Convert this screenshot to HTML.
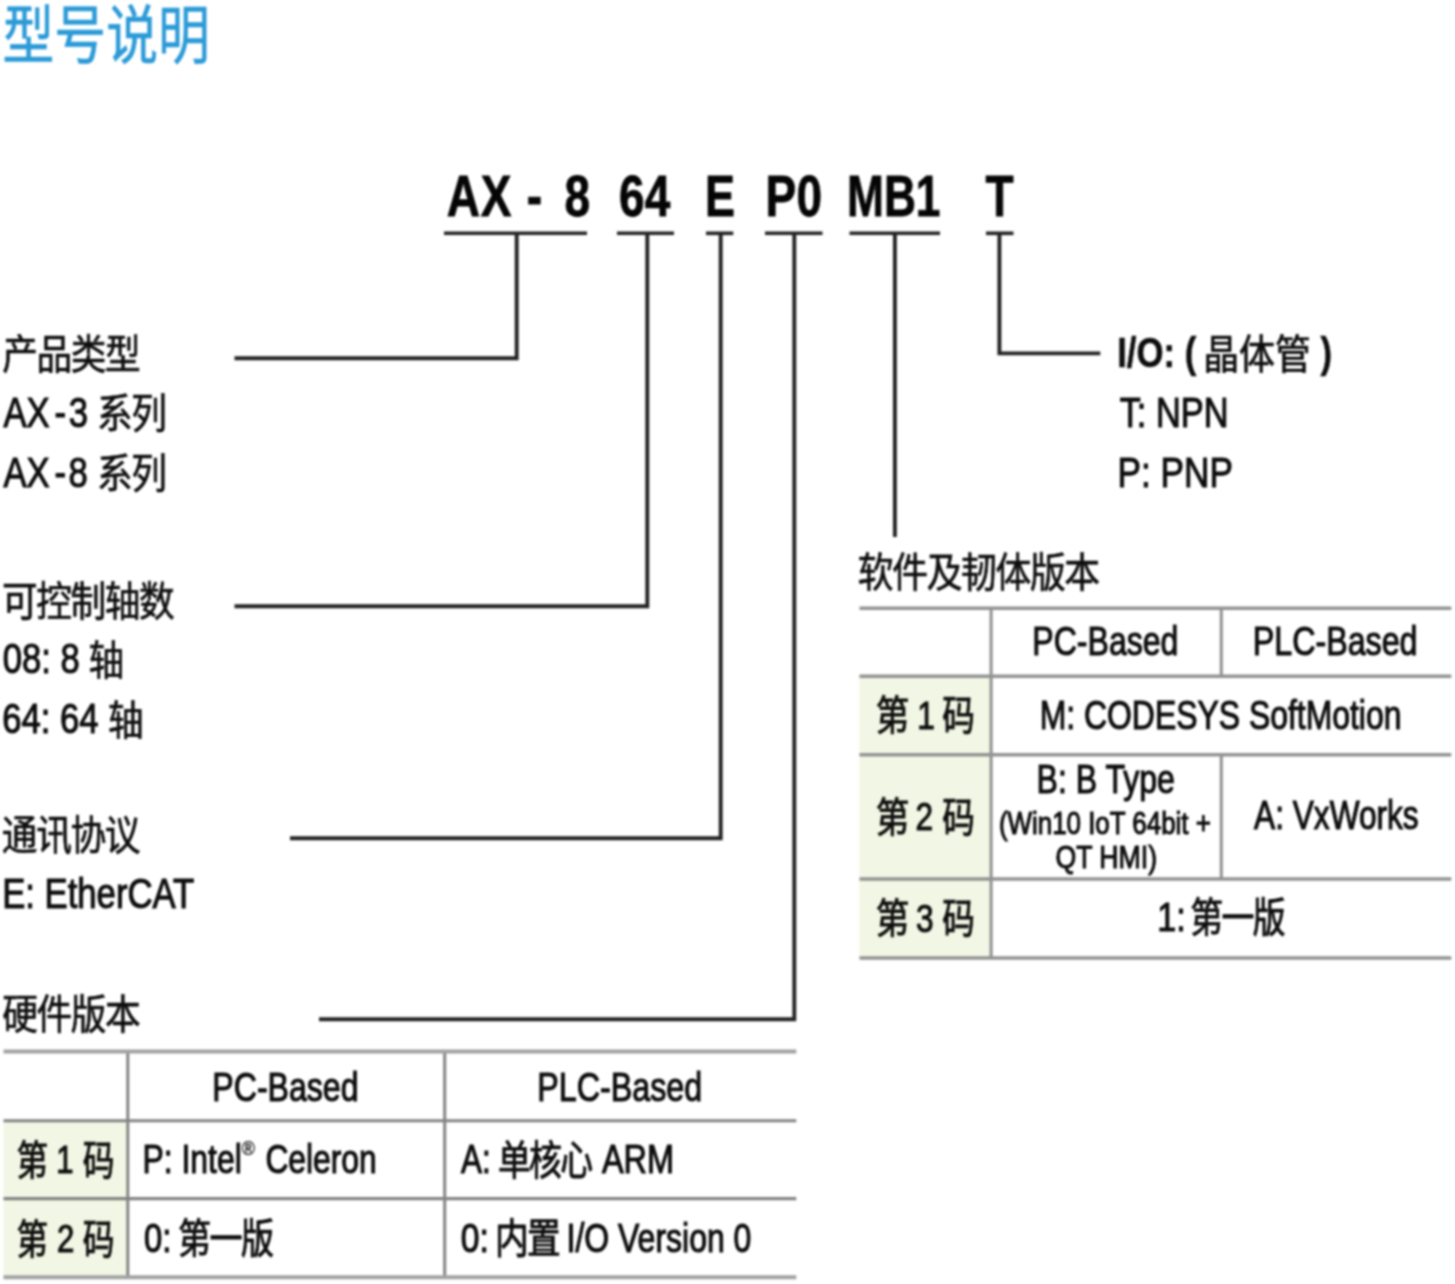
<!DOCTYPE html>
<html lang="zh-CN">
<head>
<meta charset="utf-8">
<title>型号说明</title>
<style>
html,body{margin:0;padding:0;background:#fff;}
body{width:1455px;height:1284px;overflow:hidden;}
svg{display:block;}
svg text{font-family:"Liberation Sans", "Noto Sans CJK SC", sans-serif;white-space:pre;}
</style>
</head>
<body>
<svg width="1455" height="1284" viewBox="0 0 1455 1284">
<defs><filter id="soft" color-interpolation-filters="sRGB" x="0" y="0" width="1455" height="1284" filterUnits="userSpaceOnUse"><feGaussianBlur stdDeviation="0.8"/></filter></defs>
<rect width="1455" height="1284" fill="#fff"/>
<g filter="url(#soft)">
<text transform="translate(2.54 58) scale(0.8100 1)" font-size="64" fill="#2b9ad7" stroke="#2b9ad7" stroke-width="0.6">型号说明</text>
<text transform="translate(446.85 216) scale(0.8000 1)" font-size="57.5" font-weight="700" fill="#050505" stroke="#050505" stroke-width="0.8" letter-spacing="1">AX</text>
<text transform="translate(526.77 216) scale(0.8000 1)" font-size="57.5" font-weight="700" fill="#050505" stroke="#050505" stroke-width="0.8">-</text>
<text transform="translate(564.62 216) scale(0.8000 1)" font-size="57.5" font-weight="700" fill="#050505" stroke="#050505" stroke-width="0.8">8</text>
<text transform="translate(618.89 216) scale(0.8000 1)" font-size="57.5" font-weight="700" fill="#050505" stroke="#050505" stroke-width="0.8" letter-spacing="0.5">64</text>
<text transform="translate(704.97 216) scale(0.7800 1)" font-size="57.5" font-weight="700" fill="#050505" stroke="#050505" stroke-width="0.8">E</text>
<text transform="translate(765.39 216) scale(0.8000 1)" font-size="57.5" font-weight="700" fill="#050505" stroke="#050505" stroke-width="0.8" letter-spacing="0.5">P0</text>
<text transform="translate(847.01 216) scale(0.7700 1)" font-size="57.5" font-weight="700" fill="#050505" stroke="#050505" stroke-width="0.8">MB1</text>
<text transform="translate(985.54 216) scale(0.8000 1)" font-size="57.5" font-weight="700" fill="#050505" stroke="#050505" stroke-width="0.8">T</text>
<path d="M444 233.3L587 233.3" stroke="#222" stroke-width="3.6"/>
<path d="M617 233.3L674 233.3" stroke="#222" stroke-width="3.6"/>
<path d="M706 233.3L733.3 233.3" stroke="#222" stroke-width="3.6"/>
<path d="M765 233.3L822.5 233.3" stroke="#222" stroke-width="3.6"/>
<path d="M849.5 233.3L940 233.3" stroke="#222" stroke-width="3.6"/>
<path d="M986 233.3L1013.5 233.3" stroke="#222" stroke-width="3.6"/>
<path d="M516.7 233V358.3H234.5" stroke="#222" stroke-width="3.9" fill="none"/>
<path d="M647.3 233V606.3H234.5" stroke="#222" stroke-width="3.9" fill="none"/>
<path d="M720.7 233V838.2H290" stroke="#222" stroke-width="3.9" fill="none"/>
<path d="M794.3 233V1019.2H319" stroke="#222" stroke-width="3.9" fill="none"/>
<path d="M894.9 233V537" stroke="#222" stroke-width="3.9" fill="none"/>
<path d="M999.4 233V353.4H1100.3" stroke="#222" stroke-width="3.9" fill="none"/>
<text transform="translate(2.25 368.5) scale(0.8700 1)" font-size="41" fill="#0c0c0c" stroke="#0c0c0c" stroke-width="0.65" letter-spacing="-1.6000000000000003">产品类型</text>
<text transform="translate(3.41 426.5) scale(0.8150 1)" font-size="42.5" fill="#0c0c0c" stroke="#0c0c0c" stroke-width="1.1">AX</text>
<text transform="translate(54.44 426.5) scale(0.8150 1)" font-size="42.5" fill="#0c0c0c" stroke="#0c0c0c" stroke-width="1.1">-</text>
<text transform="translate(68.70 426.5) scale(0.8150 1)" font-size="42.5" fill="#0c0c0c" stroke="#0c0c0c" stroke-width="1.1">3</text>
<text transform="translate(97.00 427.5) scale(0.8700 1)" font-size="41" fill="#0c0c0c" stroke="#0c0c0c" stroke-width="0.65" letter-spacing="-1.6000000000000003">系列</text>
<text transform="translate(3.41 486.5) scale(0.8150 1)" font-size="42.5" fill="#0c0c0c" stroke="#0c0c0c" stroke-width="1.1">AX</text>
<text transform="translate(54.44 486.5) scale(0.8150 1)" font-size="42.5" fill="#0c0c0c" stroke="#0c0c0c" stroke-width="1.1">-</text>
<text transform="translate(68.53 486.5) scale(0.8150 1)" font-size="42.5" fill="#0c0c0c" stroke="#0c0c0c" stroke-width="1.1">8</text>
<text transform="translate(97.00 487.5) scale(0.8700 1)" font-size="41" fill="#0c0c0c" stroke="#0c0c0c" stroke-width="0.65" letter-spacing="-1.6000000000000003">系列</text>
<text transform="translate(2.04 615.5) scale(0.8700 1)" font-size="41" fill="#0c0c0c" stroke="#0c0c0c" stroke-width="0.65" letter-spacing="-1.6000000000000003">可控制轴数</text>
<text transform="translate(2.70 673.2) scale(0.8150 1)" font-size="42.5" fill="#0c0c0c" stroke="#0c0c0c" stroke-width="1.1">08: 8</text>
<text transform="translate(88.39 675.3) scale(0.8700 1)" font-size="41" fill="#0c0c0c" stroke="#0c0c0c" stroke-width="0.65" letter-spacing="-1.6000000000000003">轴</text>
<text transform="translate(2.27 733) scale(0.8150 1)" font-size="42.5" fill="#0c0c0c" stroke="#0c0c0c" stroke-width="1.1">64: 64</text>
<text transform="translate(108.09 735.3) scale(0.8700 1)" font-size="41" fill="#0c0c0c" stroke="#0c0c0c" stroke-width="0.65" letter-spacing="-1.6000000000000003">轴</text>
<text transform="translate(1.87 849.6) scale(0.8700 1)" font-size="41" fill="#0c0c0c" stroke="#0c0c0c" stroke-width="0.65" letter-spacing="-1.6000000000000003">通讯协议</text>
<text transform="translate(2.14 908) scale(0.8164 1)" font-size="42.5" fill="#0c0c0c" stroke="#0c0c0c" stroke-width="1.1">E: EtherCAT</text>
<text transform="translate(2.23 1029) scale(0.8700 1)" font-size="41" fill="#0c0c0c" stroke="#0c0c0c" stroke-width="0.65" letter-spacing="-1.6000000000000003">硬件版本</text>
<text transform="translate(1117.15 367.3) scale(0.8177 1)" font-size="42.5" font-weight="700" fill="#0c0c0c" stroke="#0c0c0c" stroke-width="0.5">I/O: (</text>
<text transform="translate(1203.17 369) scale(0.8771 1)" font-size="41" fill="#0c0c0c" stroke="#0c0c0c" stroke-width="0.65">晶体管</text>
<text transform="translate(1320.50 367.3) scale(0.8150 1)" font-size="42.5" font-weight="700" fill="#0c0c0c" stroke="#0c0c0c" stroke-width="0.5">)</text>
<text transform="translate(1119.63 427.3) scale(0.8098 1)" font-size="42.5" fill="#0c0c0c" stroke="#0c0c0c" stroke-width="1.1">T: NPN</text>
<text transform="translate(1117.49 486.7) scale(0.8290 1)" font-size="42.5" fill="#0c0c0c" stroke="#0c0c0c" stroke-width="1.1">P: PNP</text>
<text transform="translate(857.87 586.5) scale(0.8738 1)" font-size="41" fill="#0c0c0c" stroke="#0c0c0c" stroke-width="0.65" letter-spacing="-1.6000000000000003">软件及韧体版本</text>
<rect x="859.5" y="677" width="131.5" height="281" fill="#f2f6e4"/>
<path d="M859.5 608.2L1451.3 608.2" stroke="#929292" stroke-width="3.5"/>
<path d="M859.5 676.3L1451.3 676.3" stroke="#929292" stroke-width="3.5"/>
<path d="M859.5 754.8L1451.3 754.8" stroke="#929292" stroke-width="3.5"/>
<path d="M859.5 879L1451.3 879" stroke="#929292" stroke-width="3.5"/>
<path d="M859.5 958L1451.3 958" stroke="#929292" stroke-width="3.5"/>
<path d="M991.1 608L991.1 958" stroke="#929292" stroke-width="3.1"/>
<path d="M1221.3 608L1221.3 676" stroke="#929292" stroke-width="3.1"/>
<path d="M1221.3 754L1221.3 879" stroke="#929292" stroke-width="3.1"/>
<text transform="translate(1032.36 654.7) scale(0.8011 1)" font-size="40" fill="#0c0c0c" stroke="#0c0c0c" stroke-width="1.1">PC-Based</text>
<text transform="translate(1252.74 654.7) scale(0.8057 1)" font-size="40" fill="#0c0c0c" stroke="#0c0c0c" stroke-width="1.1">PLC-Based</text>
<text transform="translate(875.80 730.4) scale(0.8211 1)" font-size="41" fill="#0c0c0c" stroke="#0c0c0c" stroke-width="0.95" letter-spacing="-2.0">第</text>
<text transform="translate(917.23 728.6) scale(0.8000 1)" font-size="39.5" fill="#0c0c0c" stroke="#0c0c0c" stroke-width="1.1">1</text>
<text transform="translate(942.22 730.4) scale(0.7960 1)" font-size="41" fill="#0c0c0c" stroke="#0c0c0c" stroke-width="0.95" letter-spacing="-2.0">码</text>
<text transform="translate(875.80 832.0) scale(0.8211 1)" font-size="41" fill="#0c0c0c" stroke="#0c0c0c" stroke-width="0.95" letter-spacing="-2.0">第</text>
<text transform="translate(915.52 830.2) scale(0.8000 1)" font-size="39.5" fill="#0c0c0c" stroke="#0c0c0c" stroke-width="1.1">2</text>
<text transform="translate(942.22 832.0) scale(0.7960 1)" font-size="41" fill="#0c0c0c" stroke="#0c0c0c" stroke-width="0.95" letter-spacing="-2.0">码</text>
<text transform="translate(875.80 933.4) scale(0.8211 1)" font-size="41" fill="#0c0c0c" stroke="#0c0c0c" stroke-width="0.95" letter-spacing="-2.0">第</text>
<text transform="translate(915.92 931.6) scale(0.8000 1)" font-size="39.5" fill="#0c0c0c" stroke="#0c0c0c" stroke-width="1.1">3</text>
<text transform="translate(942.22 933.4) scale(0.7960 1)" font-size="41" fill="#0c0c0c" stroke="#0c0c0c" stroke-width="0.95" letter-spacing="-2.0">码</text>
<text transform="translate(1039.67 728.6) scale(0.7980 1)" font-size="40" fill="#0c0c0c" stroke="#0c0c0c" stroke-width="1.1">M: CODESYS SoftMotion</text>
<text transform="translate(1036.56 792.5) scale(0.8008 1)" font-size="40" fill="#0c0c0c" stroke="#0c0c0c" stroke-width="1.1">B: B Type</text>
<text transform="translate(998.88 833.5) scale(0.8101 1)" font-size="32" fill="#0c0c0c" stroke="#0c0c0c" stroke-width="1.1">(Win10 IoT 64bit +</text>
<text transform="translate(1055.43 868) scale(0.8336 1)" font-size="32" fill="#0c0c0c" stroke="#0c0c0c" stroke-width="1.1">QT HMI)</text>
<text transform="translate(1254.12 829) scale(0.7905 1)" font-size="40" fill="#0c0c0c" stroke="#0c0c0c" stroke-width="1.1">A: VxWorks</text>
<text transform="translate(1157.24 930.8) scale(0.8539 1)" font-size="40" fill="#0c0c0c" stroke="#0c0c0c" stroke-width="1.1">1:</text>
<text transform="translate(1190.24 932) scale(0.8025 1)" font-size="41" fill="#0c0c0c" stroke="#0c0c0c" stroke-width="0.95" letter-spacing="-2.0">第一版</text>
<rect x="3.5" y="1121" width="124.3" height="156" fill="#f2f6e4"/>
<path d="M127.8 1052L127.8 1277" stroke="#838383" stroke-width="3"/>
<path d="M444.7 1052L444.7 1277" stroke="#838383" stroke-width="3"/>
<path d="M3.5 1120.7L796.3 1120.7" stroke="#838383" stroke-width="3.1"/>
<path d="M3.5 1198.6L796.3 1198.6" stroke="#838383" stroke-width="3.1"/>
<path d="M3.5 1051.6L796.3 1051.6" stroke="#a2a2a2" stroke-width="4.0"/>
<path d="M3.5 1277.3L796.3 1277.3" stroke="#a2a2a2" stroke-width="4.0"/>
<text transform="translate(212.35 1100.6) scale(0.8017 1)" font-size="40" fill="#0c0c0c" stroke="#0c0c0c" stroke-width="1.1">PC-Based</text>
<text transform="translate(537.34 1100.6) scale(0.8062 1)" font-size="40" fill="#0c0c0c" stroke="#0c0c0c" stroke-width="1.1">PLC-Based</text>
<text transform="translate(16.40 1175.4) scale(0.7724 1)" font-size="41" fill="#0c0c0c" stroke="#0c0c0c" stroke-width="0.95" letter-spacing="-2.0">第</text>
<text transform="translate(56.26 1173.4) scale(0.8200 1)" font-size="38" fill="#0c0c0c" stroke="#0c0c0c" stroke-width="1.1">1</text>
<text transform="translate(82.75 1175.4) scale(0.7746 1)" font-size="41" fill="#0c0c0c" stroke="#0c0c0c" stroke-width="0.95" letter-spacing="-2.0">码</text>
<text transform="translate(16.40 1253.5) scale(0.7724 1)" font-size="41" fill="#0c0c0c" stroke="#0c0c0c" stroke-width="0.95" letter-spacing="-2.0">第</text>
<text transform="translate(57.04 1251.5) scale(0.8200 1)" font-size="38" fill="#0c0c0c" stroke="#0c0c0c" stroke-width="1.1">2</text>
<text transform="translate(82.75 1253.5) scale(0.7746 1)" font-size="41" fill="#0c0c0c" stroke="#0c0c0c" stroke-width="0.95" letter-spacing="-2.0">码</text>
<text transform="translate(142.57 1173.4) scale(0.7966 1)" font-size="40" fill="#0c0c0c" stroke="#0c0c0c" stroke-width="1.1">P: Intel</text>
<text transform="translate(241.63 1155.3) scale(0.8500 1)" font-size="21" fill="#0c0c0c" stroke="#0c0c0c" stroke-width="0.3">®</text>
<text transform="translate(265.41 1173.4) scale(0.7948 1)" font-size="40" fill="#0c0c0c" stroke="#0c0c0c" stroke-width="1.1">Celeron</text>
<text transform="translate(143.97 1251.5) scale(0.8191 1)" font-size="40" fill="#0c0c0c" stroke="#0c0c0c" stroke-width="1.1">0:</text>
<text transform="translate(178.03 1253) scale(0.8068 1)" font-size="41" fill="#0c0c0c" stroke="#0c0c0c" stroke-width="0.95" letter-spacing="-2.0">第一版</text>
<text transform="translate(461.12 1173.4) scale(0.7859 1)" font-size="40" fill="#0c0c0c" stroke="#0c0c0c" stroke-width="1.1">A:</text>
<text transform="translate(497.88 1175) scale(0.8006 1)" font-size="41" fill="#0c0c0c" stroke="#0c0c0c" stroke-width="0.95" letter-spacing="-2.0">单核心</text>
<text transform="translate(601.92 1173.4) scale(0.8107 1)" font-size="40" fill="#0c0c0c" stroke="#0c0c0c" stroke-width="1.1">ARM</text>
<text transform="translate(460.74 1251.5) scale(0.8404 1)" font-size="40" fill="#0c0c0c" stroke="#0c0c0c" stroke-width="1.1">0:</text>
<text transform="translate(494.92 1253) scale(0.8217 1)" font-size="41" fill="#0c0c0c" stroke="#0c0c0c" stroke-width="0.95" letter-spacing="-2.0">内置</text>
<text transform="translate(566.54 1251.5) scale(0.7996 1)" font-size="40" fill="#0c0c0c" stroke="#0c0c0c" stroke-width="1.1">I/O Version 0</text>
</g>
</svg>
</body>
</html>
